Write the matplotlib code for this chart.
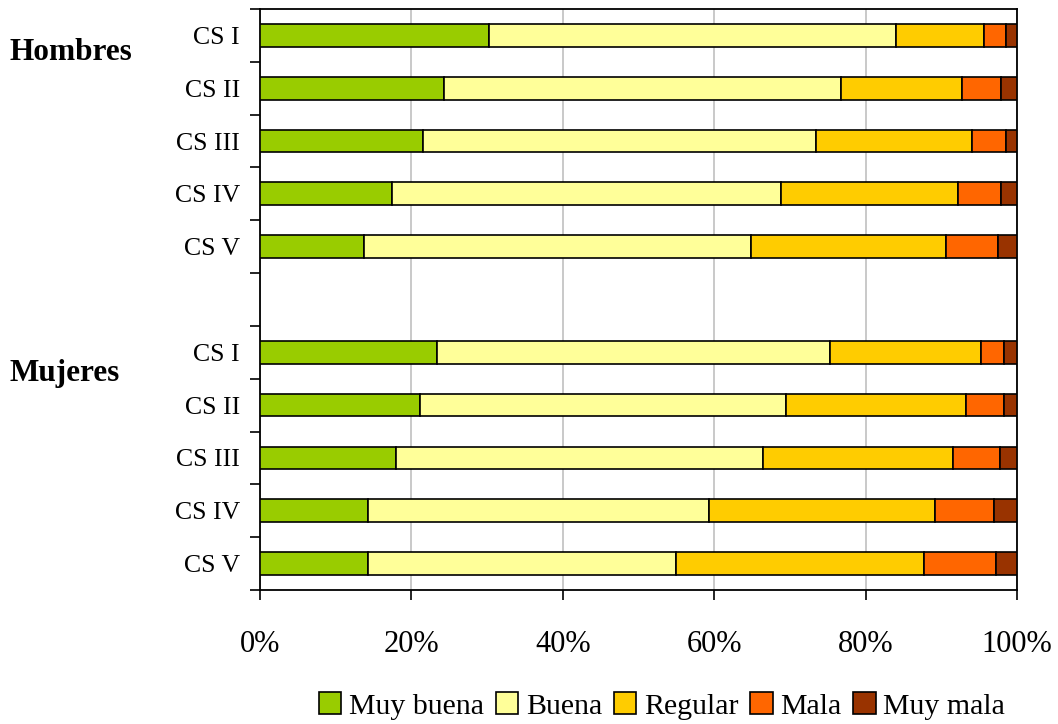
import numpy as np
import matplotlib
matplotlib.use("Agg")
import matplotlib.pyplot as plt
from matplotlib.patches import Patch

# categories, top to bottom (blank slot between the two groups)
labels = ["CS I", "CS II", "CS III", "CS IV", "CS V", "",
          "CS I", "CS II", "CS III", "CS IV", "CS V"]
series = ["Muy buena", "Buena", "Regular", "Mala", "Muy mala"]
colors = ["#99CC00", "#FFFF99", "#FFCC00", "#FF6600", "#993300"]

# percentages per category (Hombres then Mujeres)
muy_buena = [30.2, 24.3, 21.5, 17.5, 13.7, 0, 23.4, 21.1, 18.0, 14.3, 14.3]
buena     = [53.8, 52.5, 52.0, 51.3, 51.2, 0, 51.9, 48.4, 48.4, 45.0, 40.6]
regular   = [11.6, 15.9, 20.6, 23.4, 25.7, 0, 19.9, 23.8, 25.2, 29.9, 32.8]
mala      = [2.9, 5.2, 4.4, 5.7, 6.9, 0, 3.1, 5.0, 6.1, 7.8, 9.5]
muy_mala  = [1.5, 2.1, 1.5, 2.1, 2.5, 0, 1.7, 1.7, 2.3, 3.0, 2.8]

plt.rcParams['font.family'] = ['Liberation Serif', 'DejaVu Serif']

fig = plt.figure(figsize=(10.58, 7.24), dpi=100)
ax = fig.add_axes([0.2457, 0.1851, 0.7155, 0.8025])

y = np.arange(len(labels))
left = np.zeros(len(labels))
for vals, name, col in zip([muy_buena, buena, regular, mala, muy_mala], series, colors):
    vals = np.array(vals)
    mask = vals > 0
    ax.barh(y[mask], vals[mask], left=left[mask], height=0.43, color=col,
            edgecolor="black", linewidth=1.2, label=name, zorder=3)
    left += vals

ax.set_xlim(0, 100)
ax.set_ylim(len(labels) - 0.5, -0.5)

ax.set_xticks(np.arange(0, 101, 20))
ax.set_xticklabels(["%d%%" % v for v in range(0, 101, 20)], fontsize=22)
ax.tick_params(axis="x", direction="out", length=7, width=1.2, pad=22)
ax.xaxis.grid(True, color="#c0c0c0", linewidth=1.2, zorder=0)

ax.set_yticks(y)
ax.set_yticklabels(labels, fontsize=18.5)
ax.tick_params(axis="y", which="major", length=0, pad=14.5)
ax.set_yticks(np.arange(-0.5, len(labels)), minor=True)
ax.tick_params(axis="y", which="minor", direction="out", length=7, width=1.2)

for s in ax.spines.values():
    s.set_linewidth(1.3)

fig.text(10 / 1058, 1 - 53 / 724, "Hombres", fontsize=22.5, fontweight="bold",
         va="center", ha="left")
fig.text(10 / 1058, 1 - 373 / 724, "Mujeres", fontsize=22.5, fontweight="bold",
         va="center", ha="left")

handles = [Patch(facecolor=c, edgecolor="black", linewidth=1.2) for c in colors]
fig.legend(handles, series, loc="center", bbox_to_anchor=(662 / 1058, 1 - 706 / 724),
           ncol=5, frameon=False, fontsize=21.5, handlelength=0.75, handleheight=0.75,
           handletextpad=0.25, columnspacing=0.4)

fig.savefig("out.png", dpi=100)
